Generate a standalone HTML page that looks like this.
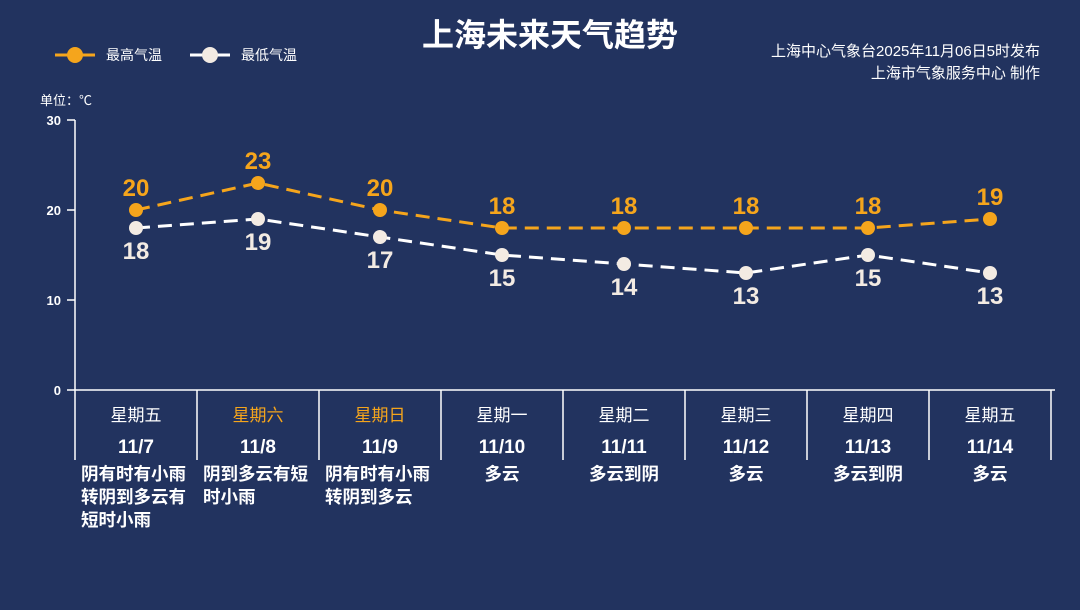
<!DOCTYPE html>
<html><head><meta charset="utf-8"><style>
body{margin:0;width:1080px;height:610px;background:#22335f;overflow:hidden}
svg{display:block}
text{font-family:"Liberation Sans","Noto Sans CJK SC",sans-serif}
</style></head><body>
<svg width="1080" height="610" viewBox="0 0 1080 610">
<rect width="1080" height="610" fill="#22335f"/>
<text x="550" y="46" font-size="32" font-weight="bold" fill="#fff" text-anchor="middle">上海未来天气趋势</text>
<line x1="55" y1="55" x2="95" y2="55" stroke="#f5a51c" stroke-width="3"/>
<circle cx="75" cy="55" r="8" fill="#f5a51c"/>
<text x="106" y="60" font-size="14" fill="#fff">最高气温</text>
<line x1="190" y1="55" x2="230" y2="55" stroke="#fff" stroke-width="3"/>
<circle cx="210" cy="55" r="8" fill="#f3ebe3"/>
<text x="241" y="60" font-size="14" fill="#fff">最低气温</text>
<text x="1040" y="56" font-size="15" fill="#fff" text-anchor="end">上海中心气象台2025年11月06日5时发布</text>
<text x="1040" y="78" font-size="15" fill="#fff" text-anchor="end">上海市气象服务中心  制作</text>
<text x="40" y="105" font-size="13" fill="#fff">单位：℃</text>
<g fill="#fff" font-size="13" font-weight="bold" text-anchor="end">
<text x="61" y="125">30</text><text x="61" y="215">20</text><text x="61" y="305">10</text><text x="61" y="395">0</text>
</g>
<g stroke="#fff" stroke-width="1.5">
<line x1="75" y1="120" x2="75" y2="460"/>
<line x1="67" y1="120" x2="75" y2="120"/><line x1="67" y1="210" x2="75" y2="210"/><line x1="67" y1="300" x2="75" y2="300"/>
<line x1="67" y1="390" x2="1055" y2="390"/>
<line x1="197" y1="390" x2="197" y2="460"/><line x1="319" y1="390" x2="319" y2="460"/><line x1="441" y1="390" x2="441" y2="460"/><line x1="563" y1="390" x2="563" y2="460"/><line x1="685" y1="390" x2="685" y2="460"/><line x1="807" y1="390" x2="807" y2="460"/><line x1="929" y1="390" x2="929" y2="460"/><line x1="1051" y1="390" x2="1051" y2="460"/>
</g>
<polyline points="136,210 258,183 380,210 502,228 624,228 746,228 868,228 990,219" fill="none" stroke="#f5a51c" stroke-width="3" stroke-dasharray="14,8"/>
<polyline points="136,228 258,219 380,237 502,255 624,264 746,273 868,255 990,273" fill="none" stroke="#fff" stroke-width="3" stroke-dasharray="14,8"/>
<g fill="#f5a51c"><circle cx="136" cy="210" r="7"/><circle cx="258" cy="183" r="7"/><circle cx="380" cy="210" r="7"/><circle cx="502" cy="228" r="7"/><circle cx="624" cy="228" r="7"/><circle cx="746" cy="228" r="7"/><circle cx="868" cy="228" r="7"/><circle cx="990" cy="219" r="7"/></g>
<g fill="#f3ebe3"><circle cx="136" cy="228" r="7"/><circle cx="258" cy="219" r="7"/><circle cx="380" cy="237" r="7"/><circle cx="502" cy="255" r="7"/><circle cx="624" cy="264" r="7"/><circle cx="746" cy="273" r="7"/><circle cx="868" cy="255" r="7"/><circle cx="990" cy="273" r="7"/></g>
<g fill="#f5a51c" font-size="24" font-weight="bold" text-anchor="middle">
<text x="136" y="196">20</text><text x="258" y="169">23</text><text x="380" y="196">20</text><text x="502" y="214">18</text><text x="624" y="214">18</text><text x="746" y="214">18</text><text x="868" y="214">18</text><text x="990" y="205">19</text>
</g>
<g fill="#f3ebe3" font-size="24" font-weight="bold" text-anchor="middle">
<text x="136" y="259">18</text><text x="258" y="250">19</text><text x="380" y="268">17</text><text x="502" y="286">15</text><text x="624" y="295">14</text><text x="746" y="304">13</text><text x="868" y="286">15</text><text x="990" y="304">13</text>
</g>
<g font-size="17" text-anchor="middle" fill="#fff">
<text x="136" y="421">星期五</text><text x="258" y="421" fill="#f5a51c">星期六</text><text x="380" y="421" fill="#f5a51c">星期日</text><text x="502" y="421">星期一</text><text x="624" y="421">星期二</text><text x="746" y="421">星期三</text><text x="868" y="421">星期四</text><text x="990" y="421">星期五</text>
</g>
<g font-size="19" font-weight="bold" text-anchor="middle" fill="#fff">
<text x="136" y="453">11/7</text><text x="258" y="453">11/8</text><text x="380" y="453">11/9</text><text x="502" y="453">11/10</text><text x="624" y="453">11/11</text><text x="746" y="453">11/12</text><text x="868" y="453">11/13</text><text x="990" y="453">11/14</text>
</g>
<g font-size="17.5" font-weight="bold" fill="#fff">
<text x="81" y="480">阴有时有小雨</text><text x="81" y="503">转阴到多云有</text><text x="81" y="526">短时小雨</text>
<text x="203" y="480">阴到多云有短</text><text x="203" y="503">时小雨</text>
<text x="325" y="480">阴有时有小雨</text><text x="325" y="503">转阴到多云</text>
</g>
<g font-size="17.5" font-weight="bold" fill="#fff" text-anchor="middle">
<text x="502" y="480">多云</text><text x="624" y="480">多云到阴</text><text x="746" y="480">多云</text><text x="868" y="480">多云到阴</text><text x="990" y="480">多云</text>
</g>
</svg>
</body></html>
